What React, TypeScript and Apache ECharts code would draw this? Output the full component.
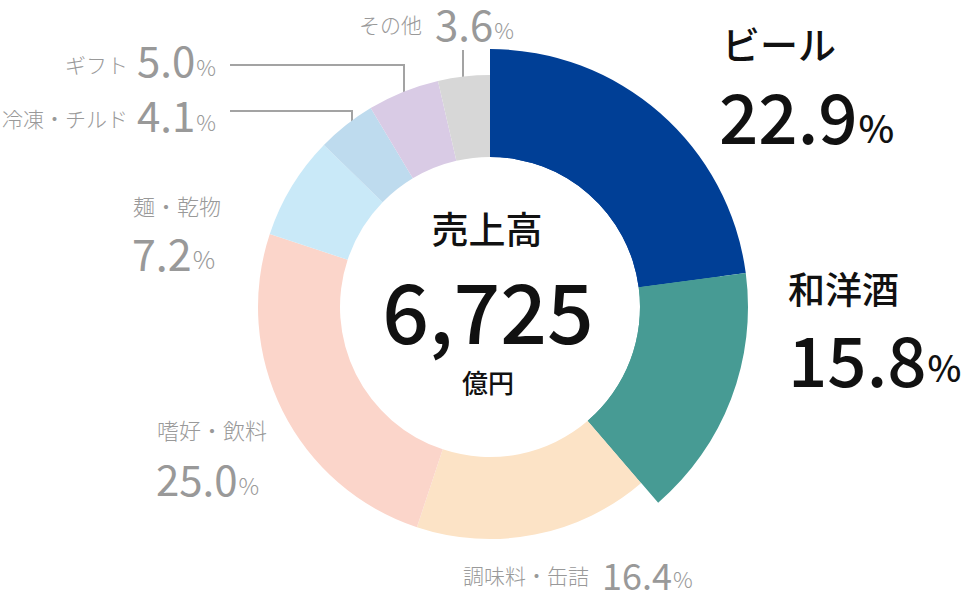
import React, { useEffect, useRef } from "react";
import * as echarts from "echarts";

// Sales breakdown by product category (share of total, %)
const categories = ["ビール", "和洋酒", "調味料・缶詰", "嗜好・飲料", "麺・乾物", "冷凍・チルド", "ギフト", "その他"];
const shares = [22.9, 15.8, 16.4, 25.0, 7.2, 4.1, 5.0, 3.6];
const sliceColors = ["#003f96", "#479b94", "#fce3c6", "#fbd5ca", "#c9e9f8", "#bedbee", "#d9cbe5", "#d7d7d7"];
const featured = ["ビール", "和洋酒"];

const centerTitle = "売上高";
const centerValue = "6,725";
const centerUnit = "億円";

const FONT = '"Noto Sans CJK JP", "Noto Sans", sans-serif';
const DARK = "#111111";
const GREY = "#999999";

// Where each category's caption sits: [x, y, fontSize]; the "%" follows the number
type Spot = [number, number, number];
interface LabelSpot {
  name: Spot;
  nameAlign: "left" | "right";
  num: Spot;
  pct: [number, number]; // [centre y, fontSize]
  strong: boolean;
}
const labelSpots: Record<string, LabelSpot> = {
  "ビール": { name: [722, 42, 38], nameAlign: "left", num: [719, 114, 69], pct: [126, 38], strong: true },
  "和洋酒": { name: [788, 288, 37], nameAlign: "left", num: [788, 357, 69], pct: [366, 36], strong: true },
  "調味料・缶詰": { name: [463, 575, 21], nameAlign: "left", num: [602, 574, 36], pct: [578, 22], strong: false },
  "嗜好・飲料": { name: [157, 429, 22], nameAlign: "left", num: [156, 477, 42], pct: [485, 23], strong: false },
  "麺・乾物": { name: [133, 205, 22], nameAlign: "left", num: [132, 252, 43], pct: [258, 25], strong: false },
  "冷凍・チルド": { name: [128, 118, 21], nameAlign: "right", num: [137, 113, 42], pct: [121, 22], strong: false },
  "ギフト": { name: [128, 64, 21], nameAlign: "right", num: [137, 58, 42], pct: [66, 22], strong: false },
  "その他": { name: [359, 24, 21], nameAlign: "left", num: [435, 22, 42], pct: [29, 22], strong: false },
};

// Leader lines for the narrow slices at the top-left
const leaderLines: Record<string, number[][]> = {
  "ギフト": [[230, 65], [404, 65], [404, 112]],
  "冷凍・チルド": [[230, 111], [352, 111], [352, 141]],
  "その他": [[463, 50], [463, 112]],
};

let measureCtx: CanvasRenderingContext2D | null = null;
function textWidth(text: string, font: string): number {
  if (!measureCtx) measureCtx = document.createElement("canvas").getContext("2d");
  if (!measureCtx) return text.length * 20;
  measureCtx.font = font;
  return measureCtx.measureText(text).width;
}

function textEl(x: number, y: number, text: string, weight: number, size: number, fill: string, align: string) {
  return {
    type: "text",
    x,
    y,
    style: {
      text,
      font: `${weight} ${size}px ${FONT}`,
      lineHeight: Math.round(size * 0.9),
      fill,
      align,
      verticalAlign: "middle",
    },
  };
}

function buildGraphics() {
  const els: any[] = [];
  categories.forEach((cat, i) => {
    const s = labelSpots[cat];
    const color = s.strong ? DARK : GREY;
    const nameWeight = s.strong ? 500 : 300;
    const numWeight = s.strong ? 500 : 400;
    const numText = shares[i].toFixed(1);
    const numFont = `${numWeight} ${s.num[2]}px ${FONT}`;
    els.push(textEl(s.name[0], s.name[1], cat, nameWeight, s.name[2], color, s.nameAlign));
    els.push(textEl(s.num[0], s.num[1], numText, numWeight, s.num[2], color, "left"));
    els.push(textEl(s.num[0] + textWidth(numText, numFont) + 1, s.pct[0], "%", nameWeight, s.pct[1], color, "left"));
    const line = leaderLines[cat];
    if (line) {
      els.push({
        type: "polyline",
        shape: { points: line },
        style: { stroke: "#a3a3a3", lineWidth: 2, fill: "none" },
        silent: true,
      });
    }
  });
  // Total in the hole of the donut
  els.push(textEl(487, 228, centerTitle, 500, 37, DARK, "center"));
  els.push(textEl(488, 308, centerValue, 500, 82, DARK, "center"));
  els.push(textEl(488, 381, centerUnit, 500, 26, DARK, "center"));
  return els;
}

export default function App() {
  const ref = useRef<HTMLDivElement>(null);

  useEffect(() => {
    if (!ref.current) return;
    const chart = echarts.init(ref.current, undefined, { renderer: "svg" });

    const baseData = categories.map((name, i) => ({
      name,
      value: shares[i],
      itemStyle: { color: sliceColors[i] },
    }));
    // Featured categories are drawn again with a larger outer radius
    const featuredData = categories.map((name, i) => ({
      name,
      value: shares[i],
      itemStyle: { color: featured.includes(name) ? sliceColors[i] : "rgba(0,0,0,0)" },
    }));

    const pieCommon = {
      type: "pie",
      center: [490, 307],
      startAngle: 90,
      clockwise: true,
      silent: true,
      label: { show: false },
      labelLine: { show: false },
      emphasis: { disabled: true },
    };

    chart.setOption({
      animation: false,
      backgroundColor: "#ffffff",
      series: [
        { ...pieCommon, name: "all", radius: [150, 232], data: baseData, itemStyle: { borderWidth: 0 } },
        { ...pieCommon, name: "featured", radius: [150, 258], data: featuredData, itemStyle: { borderWidth: 0 } },
      ],
      graphic: buildGraphics(),
    });

    return () => chart.dispose();
  }, []);

  return <div ref={ref} style={{ position: "fixed", left: 0, top: 0, width: 963, height: 596 }} />;
}
